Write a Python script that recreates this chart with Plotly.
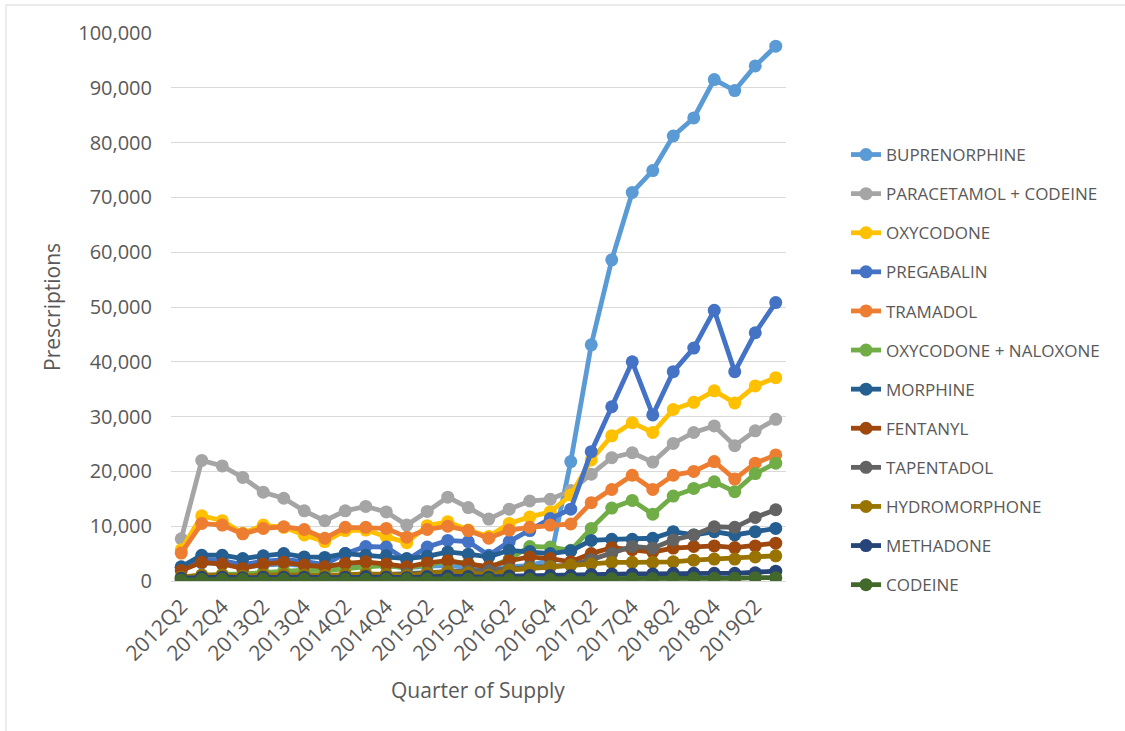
import plotly.graph_objects as go

# Quarter of supply (category axis)
quarters = [f"{y}Q{q}" for y in range(2012, 2020) for q in range(1, 5)][1:31]
tick_labels = quarters[::2]

# Prescriptions per quarter for each medicine
buprenorphine = [2400, 3300, 3200, 2500, 2900, 3100, 2800, 2500, 2900, 3000, 2800, 2400, 2700, 2800, 2500,
                 2000, 2600, 2800, 3800, 21800, 43100, 58600, 70900, 74900, 81200, 84500, 91500, 89500, 94000, 97600]
paracetamol_codeine = [7700, 22000, 21000, 18900, 16200, 15100, 12800, 11000, 12800, 13600, 12600, 10200, 12700, 15300, 13400,
                       11300, 13100, 14600, 14900, 16500, 19500, 22500, 23400, 21700, 25100, 27100, 28300, 24700, 27400, 29500]
oxycodone = [5700, 11900, 11000, 8700, 10200, 9800, 8400, 7200, 9200, 9300, 8100, 7000, 10100, 10800, 9300,
             8100, 10500, 11700, 12600, 15700, 22100, 26500, 28900, 27100, 31300, 32600, 34700, 32500, 35600, 37100]
pregabalin = [2500, 3800, 3700, 3000, 3600, 3900, 3600, 3000, 5000, 6300, 6200, 3800, 6200, 7400, 7200,
              4700, 7200, 9200, 11400, 13100, 23600, 31800, 40000, 30300, 38200, 42500, 49400, 38200, 45300, 50800]
tramadol = [5100, 10500, 10200, 8600, 9600, 9900, 9400, 7800, 9800, 9800, 9600, 8000, 9400, 10000, 9200,
            7800, 9300, 9800, 10200, 10400, 14300, 16700, 19300, 16700, 19300, 20000, 21800, 18600, 21500, 23000]
oxycodone_naloxone = [500, 900, 1200, 1300, 1600, 1900, 2000, 1900, 2300, 2600, 2800, 2400, 3000, 3600, 3200,
                      2400, 4000, 6300, 6200, 5600, 9600, 13300, 14700, 12200, 15500, 16900, 18100, 16300, 19600, 21500]
morphine = [2600, 4700, 4700, 4100, 4600, 5000, 4400, 4300, 5000, 4700, 4600, 4100, 4500, 5300, 4900,
            4400, 5600, 5400, 5000, 5500, 7400, 7600, 7600, 7800, 9000, 8400, 9000, 8400, 9000, 9600]
fentanyl = [1900, 3400, 3100, 2300, 3100, 3400, 2900, 2600, 3200, 3500, 3100, 2600, 3300, 3700, 3100,
            2600, 3700, 4400, 4100, 3500, 5000, 6100, 5700, 5300, 6000, 6300, 6400, 6100, 6400, 6900]
tapentadol = [0, 0, 0, 0, 100, 300, 500, 700, 900, 1100, 1200, 1300, 1500, 1700, 1800,
              1900, 2200, 2500, 2700, 2900, 3900, 5000, 6300, 6000, 7500, 8400, 9900, 9800, 11600, 13000]
hydromorphone = [700, 1100, 1100, 900, 1100, 1200, 1100, 1000, 1200, 1300, 1200, 1000, 1400, 1700, 1500,
                 1100, 2000, 2300, 2600, 2900, 3100, 3400, 3400, 3400, 3500, 3800, 4000, 4000, 4400, 4600]
methadone = [500, 700, 700, 600, 700, 700, 700, 600, 700, 800, 700, 600, 800, 900, 800,
             700, 900, 1000, 1000, 1000, 1200, 1300, 1300, 1300, 1400, 1400, 1400, 1400, 1500, 1800]
codeine = [200, 300, 300, 300, 300, 300, 300, 300, 300, 300, 300, 300, 300, 300, 300,
           300, 300, 300, 300, 300, 400, 400, 400, 400, 500, 500, 500, 500, 600, 600]

series = [
    ("BUPRENORPHINE", buprenorphine, "#5B9BD5"),
    ("PARACETAMOL + CODEINE", paracetamol_codeine, "#A5A5A5"),
    ("OXYCODONE", oxycodone, "#FFC000"),
    ("PREGABALIN", pregabalin, "#4472C4"),
    ("TRAMADOL", tramadol, "#ED7D31"),
    ("OXYCODONE + NALOXONE", oxycodone_naloxone, "#70AD47"),
    ("MORPHINE", morphine, "#255E91"),
    ("FENTANYL", fentanyl, "#9E480E"),
    ("TAPENTADOL", tapentadol, "#636363"),
    ("HYDROMORPHONE", hydromorphone, "#997300"),
    ("METHADONE", methadone, "#264478"),
    ("CODEINE", codeine, "#43682B"),
]

W, H = 1125, 731
L, R, T, B = 171, 786, 33, 581  # plot area in pixels

def px_x(p):
    return (p - L) / (R - L)

def px_y(p):
    return (B - p) / (B - T)

TEXT = "#595959"
FONT = "Open Sans"

fig = go.Figure()
for i, (name, vals, color) in enumerate(series):
    fig.add_trace(go.Scatter(
        x=quarters, y=vals, name=name, mode="lines+markers",
        line=dict(color=color, width=4.8),
        marker=dict(color=color, size=13),
        legendgroup=f"g{i}",
    ))

fig.update_layout(
    width=W, height=H,
    margin=dict(l=L, r=W - R, t=T, b=H - B, autoexpand=False),
    paper_bgcolor="white", plot_bgcolor="white",
    font=dict(family=FONT, color=TEXT),
    showlegend=True,
    legend=dict(
        x=px_x(846), xanchor="left", y=px_y(137), yanchor="top",
        font=dict(size=17, color=TEXT, family=FONT),
        tracegroupgap=14, itemwidth=30, bgcolor="rgba(0,0,0,0)",
    ),
    xaxis=dict(
        type="category", categoryorder="array", categoryarray=quarters,
        range=[-0.5, len(quarters) - 0.5],
        tickmode="array", tickvals=tick_labels, ticktext=tick_labels,
        tickangle=-45, tickfont=dict(size=21, color=TEXT),
        showgrid=False, showline=True, linecolor="#D9D9D9", linewidth=1,
        ticks="", automargin=False, ticklabelstandoff=4,
    ),
    yaxis=dict(
        range=[0, 100000], tickvals=list(range(0, 100001, 10000)),
        tickformat=",", tickfont=dict(size=20, color=TEXT),
        showgrid=True, gridcolor="#D9D9D9", gridwidth=1,
        zeroline=False, showline=False, ticks="",
        ticklabelstandoff=18, automargin=False,
    ),
    shapes=[dict(type="rect", xref="paper", yref="paper",
                 x0=px_x(6), y0=px_y(760), x1=px_x(1160), y1=px_y(5),
                 line=dict(color="#D9D9D9", width=1), fillcolor="rgba(0,0,0,0)", layer="below")],
    annotations=[
        dict(text="Prescriptions", xref="paper", yref="paper", x=px_x(52), y=px_y(307),
             showarrow=False, textangle=-90, font=dict(size=21, color=TEXT, family=FONT),
             xanchor="center", yanchor="middle"),
        dict(text="Quarter of Supply", xref="paper", yref="paper", x=px_x(478), y=px_y(690),
             showarrow=False, font=dict(size=21, color=TEXT, family=FONT),
             xanchor="center", yanchor="middle"),
    ],
)

fig.write_html("out.html")
